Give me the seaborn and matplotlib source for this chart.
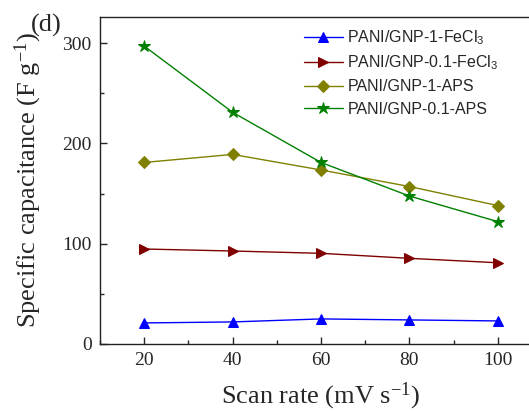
import seaborn as sns
import pandas as pd
import matplotlib.pyplot as plt
from matplotlib.ticker import MultipleLocator

# scan rates (mV/s) and specific capacitance (F/g)
scan_rate = [20, 40, 60, 80, 100]
gnp1_fecl3 = [21, 22, 25, 24, 23]
gnp01_fecl3 = [94.7, 92.7, 90.4, 85.4, 81]
gnp1_aps = [181, 189, 173.5, 157, 138]
gnp01_aps = [297, 231, 181, 147.5, 122]

labels = ["PANI/GNP-1-FeCl$_\\mathsf{3}$", "PANI/GNP-0.1-FeCl$_\\mathsf{3}$",
          "PANI/GNP-1-APS", "PANI/GNP-0.1-APS"]
series = [gnp1_fecl3, gnp01_fecl3, gnp1_aps, gnp01_aps]
colors = ["#0000ff", "#800000", "#808000", "#008000"]
markers = ["^", ">", "D", "*"]
msizes = [7.5, 7.5, 6.5, 9]

sns.set_style("ticks")
plt.rcParams["font.family"] = ["Liberation Serif", "DejaVu Serif"]
plt.rcParams["mathtext.fontset"] = "custom"
plt.rcParams["mathtext.rm"] = "Liberation Serif"
plt.rcParams["mathtext.sf"] = "Liberation Sans"
plt.rcParams["mathtext.default"] = "rm"

fig = plt.figure(figsize=(5.29, 4.12), dpi=100)
ax = fig.add_axes([100 / 529, 68 / 412, 442 / 529, 327 / 412])

for lab, vals, c, m, ms in zip(labels, series, colors, markers, msizes):
    df = pd.DataFrame({"rate": scan_rate, "cap": vals})
    sns.lineplot(data=df, x="rate", y="cap", ax=ax, color=c, marker=m,
                 markersize=ms, markeredgecolor=c, linewidth=1, label=lab)

ax.set_xlim(10, 110)
ax.set_ylim(0, 326)
ax.xaxis.set_major_locator(MultipleLocator(20))
ax.xaxis.set_minor_locator(MultipleLocator(10))
ax.yaxis.set_major_locator(MultipleLocator(100))
ax.yaxis.set_minor_locator(MultipleLocator(50))
ax.tick_params(which="major", direction="in", length=5, width=1,
               labelsize=14, pad=6, top=False, right=False)
ax.tick_params(which="minor", direction="in", length=3, width=1,
               top=False, right=False)
for s in ax.spines.values():
    s.set_color("#222222")
    s.set_linewidth(1)
ax.spines["right"].set_visible(False)

ax.set_xlabel("Scan rate (mV s$^{-1}$)", fontsize=19, labelpad=8)
ax.set_ylabel("Specific capacitance (F g$^{-1}$)", fontsize=19, labelpad=13)

leg = ax.legend(loc="upper left", bbox_to_anchor=(293 / 529, 1 - 17 / 412),
                bbox_transform=fig.transFigure, frameon=False,
                prop={"family": "Liberation Sans", "size": 11.5},
                handlelength=2.4, handletextpad=0.3, labelspacing=0.45,
                borderpad=0.2)

fig.text(31 / 529, 1 - 25 / 412, "(d)", fontsize=19, va="center", ha="left")

fig.savefig("out.png", dpi=100)
